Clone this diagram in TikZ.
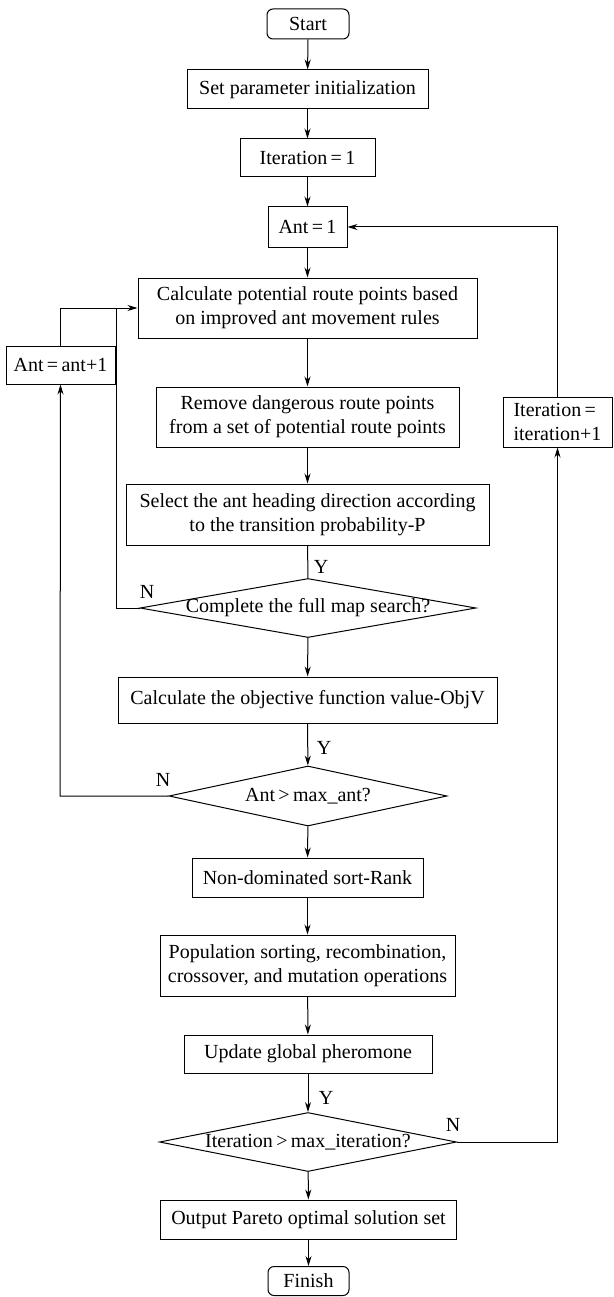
\documentclass[tikz,border=0pt]{standalone}
\usepackage{fontspec}
\setmainfont{Liberation Serif}
\usetikzlibrary{arrows.meta,shapes.geometric}
\begin{document}
\begin{tikzpicture}[x=1pt,y=-1pt,
  font=\fontsize{20}{24}\selectfont,
  box/.style={draw, line width=1pt, inner sep=0pt, align=center},
  term/.style={box, rounded corners=6pt},
  dec/.style={draw, diamond, line width=1pt, inner sep=0pt},
  arr/.style={-{Stealth[length=10pt,width=6pt]}, line width=1pt},
  ln/.style={line width=1pt},
  lbl/.style={inner sep=0pt}]
\useasboundingbox (0,0) rectangle (613,1297);
\fill[white] (0,0) rectangle (613,1297);

\node[term, minimum width=82pt, minimum height=30pt] (start) at (308,24) {Start};
\node[box, minimum width=241pt, minimum height=39pt] (init) at (307.5,89.5) {Set parameter initialization};
\node[box, minimum width=135pt, minimum height=38pt] (iter1) at (307.5,158) {Iteration\,=\,1};
\node[box, minimum width=79pt, minimum height=40pt] (ant1) at (307.5,227) {Ant\,=\,1};
\node[box, minimum width=339pt, minimum height=60pt] (calc) at (307.5,308) {Calculate potential route points based\\on improved ant movement rules};
\node[box, minimum width=109pt, minimum height=38pt] (antp) at (60.5,365) {Ant\,=\,ant+1};
\node[box, minimum width=303pt, minimum height=60pt] (remove) at (307.5,417) {Remove dangerous route points\\from a set of potential route points};
\node[box, minimum width=109pt, minimum height=50pt, align=left] (iterp) at (557.5,422) {Iteration\,=\\iteration+1};
\node[box, minimum width=363pt, minimum height=61pt] (select) at (307.5,514.5) {Select the ant heading direction according\\to the transition probability-P};
\node[dec, minimum width=336pt, minimum height=59pt] (dia1) at (308,608) {\makebox[0pt]{Complete the full map search?}};
\node[box, minimum width=379pt, minimum height=46pt] (objv) at (307.5,700) {Calculate the objective function value-ObjV};
\node[dec, minimum width=278pt, minimum height=60pt] (dia2) at (308,796) {\makebox[0pt]{Ant\,>\,max\_ant?}};
\node[box, minimum width=231pt, minimum height=39pt] (nondom) at (307.5,877.5) {Non-dominated sort-Rank};
\node[box, minimum width=295pt, minimum height=61pt] (pop) at (307.5,965.5) {Population sorting, recombination,\\crossover, and mutation operations};
\node[box, minimum width=248pt, minimum height=38pt] (update) at (308,1054) {Update global pheromone};
\node[dec, minimum width=297pt, minimum height=59pt] (dia3) at (308,1142) {\makebox[0pt]{Iteration\,>\,max\_iteration?}};
\node[box, minimum width=296pt, minimum height=39pt] (output) at (308.5,1219.5) {Output Pareto optimal solution set};
\node[term, minimum width=81pt, minimum height=29pt] (finish) at (308.5,1281) {Finish};

\node[lbl] (y1) at (321,567) {Y};
\node[lbl] (y2) at (324,748) {Y};
\node[lbl] (y3) at (326,1098) {Y};
\node[lbl] (n1) at (147,592) {N};
\node[lbl] (n2) at (163,780) {N};
\node[lbl] (n3) at (453,1125) {N};

\coordinate (c1) at (116,608);
\coordinate (c2) at (60,796);
\coordinate (c3) at (557.5,1142);

\draw[arr] (start) -- (init);
\draw[arr] (init) -- (iter1);
\draw[arr] (iter1) -- (ant1);
\draw[arr] (ant1) -- (calc);
\draw[arr] (calc) -- (remove);
\draw[arr] (remove) -- (select);
\draw[ln] (select) -- (dia1);
\draw[arr] (dia1) -- (objv);
\draw[arr] (objv) -- (dia2);
\draw[arr] (dia2) -- (nondom);
\draw[arr] (nondom) -- (pop);
\draw[arr] (pop) -- (update);
\draw[arr] (update) -- (dia3);
\draw[arr] (dia3) -- (output);
\draw[arr] (output) -- (finish);

\draw[arr] (dia1.west) -- (c1) |- (calc.west);
\draw[arr] (dia2.west) -- (c2) -- (antp.south);
\draw[ln] (antp.north) |- (c1 |- calc.west);
\draw[arr] (dia3.east) -- (c3) -- (iterp.south);
\draw[arr] (iterp.north) |- (ant1.east);
\end{tikzpicture}
\end{document}
